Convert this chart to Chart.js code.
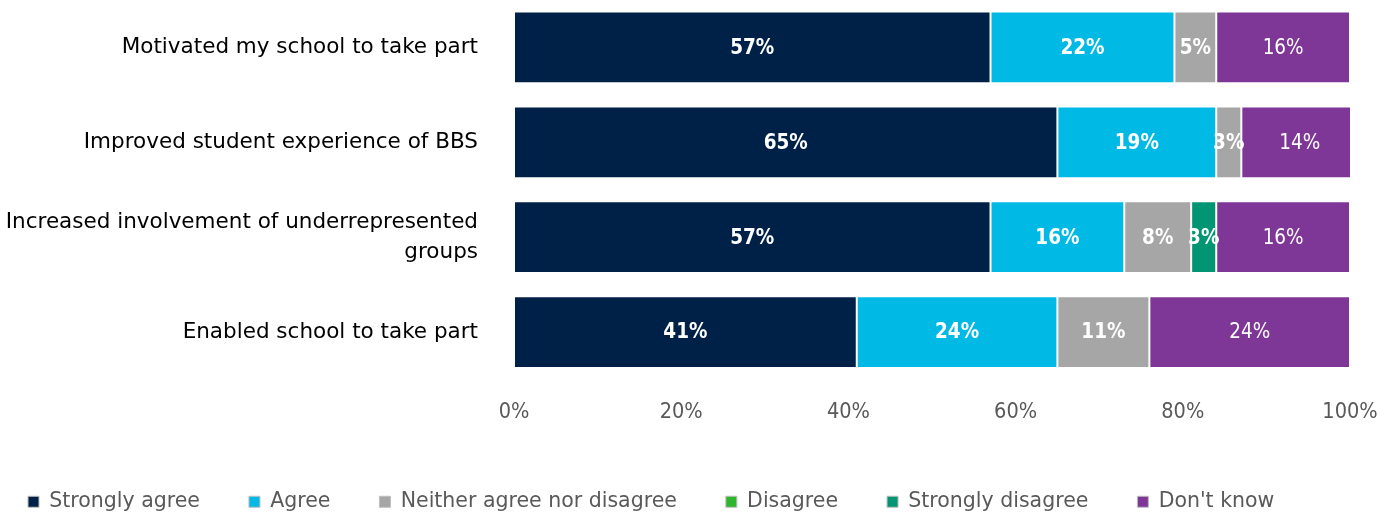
<!DOCTYPE html>
<html>
<head>
<meta charset="utf-8">
<script src="https://cdn.jsdelivr.net/npm/chart.js@4/dist/chart.umd.min.js"></script>
<style>
  html, body { margin: 0; padding: 0; background: #ffffff; }
  #wrap { width: 1391px; height: 514px; position: relative; }
</style>
</head>
<body>
<div id="wrap"><canvas id="chart"></canvas></div>
<script>
// Survey statements (y-axis categories)
const categories = [
  'Motivated my school to take part',
  'Improved student experience of BBS',
  ['Increased involvement of underrepresented', 'groups'],
  'Enabled school to take part'
];

// Response shares, percent of schools per statement
const seriesNames = ['Strongly agree', 'Agree', 'Neither agree nor disagree', 'Disagree', 'Strongly disagree', "Don't know"];
const stronglyAgree    = [57, 65, 57, 41];
const agree            = [22, 19, 16, 24];
const neither          = [5, 3, 8, 11];
const disagree         = [0, 0, 0, 0];
const stronglyDisagree = [0, 0, 3, 0];
const dontKnow         = [16, 14, 16, 24];

// X-axis ticks
const xTicks = [0, 20, 40, 60, 80, 100];

const FONT = '"DejaVu Sans", sans-serif';
const FONT_NARROW = '"DejaVu Sans Condensed", "DejaVu Sans", sans-serif';
const colors = ['#002147', '#00B9E4', '#A6A6A6', '#2DB52D', '#009673', '#7F3797'];
const seriesValues = [stronglyAgree, agree, neither, disagree, stronglyDisagree, dontKnow];

// Percent labels drawn in the middle of each non-empty segment
const segmentLabels = {
  id: 'segmentLabels',
  afterDatasetsDraw(chart) {
    const ctx = chart.ctx;
    ctx.save();
    ctx.textAlign = 'center';
    ctx.textBaseline = 'middle';
    ctx.fillStyle = '#ffffff';
    chart.data.datasets.forEach((ds, di) => {
      const meta = chart.getDatasetMeta(di);
      if (meta.hidden) return;
      ctx.font = (di === 5 ? 'normal ' : 'bold ') + '20.5px ' + FONT_NARROW;
      meta.data.forEach((bar, i) => {
        const v = ds.data[i];
        if (!v) return;
        const p = bar.getCenterPoint();
        ctx.fillText(v + '%', p.x, p.y + 1);
      });
    });
    ctx.restore();
  }
};

const datasets = seriesNames.map((name, i) => ({
  label: name,
  data: seriesValues[i],
  backgroundColor: colors[i],
  borderColor: 'rgba(255,255,255,0.35)',
  borderWidth: 1,
  borderSkipped: false,
  barPercentage: 0.756,
  categoryPercentage: 1.0
}));

new Chart(document.getElementById('chart'), {
  type: 'bar',
  data: { labels: categories, datasets },
  plugins: [segmentLabels],
  options: {
    indexAxis: 'y',
    responsive: true,
    maintainAspectRatio: false,
    animation: false,
    layout: { padding: { left: -21, right: 41, top: -1, bottom: -8 } },
    scales: {
      x: {
        stacked: true,
        min: 0,
        max: 100,
        afterBuildTicks(scale) { scale.ticks = xTicks.map(v => ({ value: v })); },
        afterFit(scale) {
          scale.height = 63;
          scale.paddingLeft = 0;
          scale.paddingRight = 0;
        },
        grid: { display: false, drawTicks: false },
        border: { display: false },
        ticks: {
          padding: 20,
          color: '#595959',
          font: { family: FONT_NARROW, size: 21.5 },
          callback: v => v + '%'
        }
      },
      y: {
        stacked: true,
        afterFit(scale) {
          scale.width = 535;
          scale.paddingTop = 0;
          scale.paddingBottom = 0;
        },
        grid: { display: false, drawTicks: false },
        border: { display: false },
        ticks: {
          padding: 36,
          color: '#000000',
          font: { family: FONT, size: 21.5, lineHeight: 1.4 }
        }
      }
    },
    plugins: {
      tooltip: { enabled: false },
      legend: {
        position: 'bottom',
        align: 'start',
        labels: {
          boxWidth: 11,
          boxHeight: 11,
          padding: 49,
          color: '#595959',
          font: { family: FONT, size: 20.5 },
          generateLabels(chart) {
            const items = Chart.defaults.plugins.legend.labels.generateLabels(chart);
            items.forEach(it => { it.strokeStyle = '#BFBFBF'; it.lineWidth = 1; });
            return items;
          }
        }
      }
    }
  }
});
</script>
</body>
</html>
